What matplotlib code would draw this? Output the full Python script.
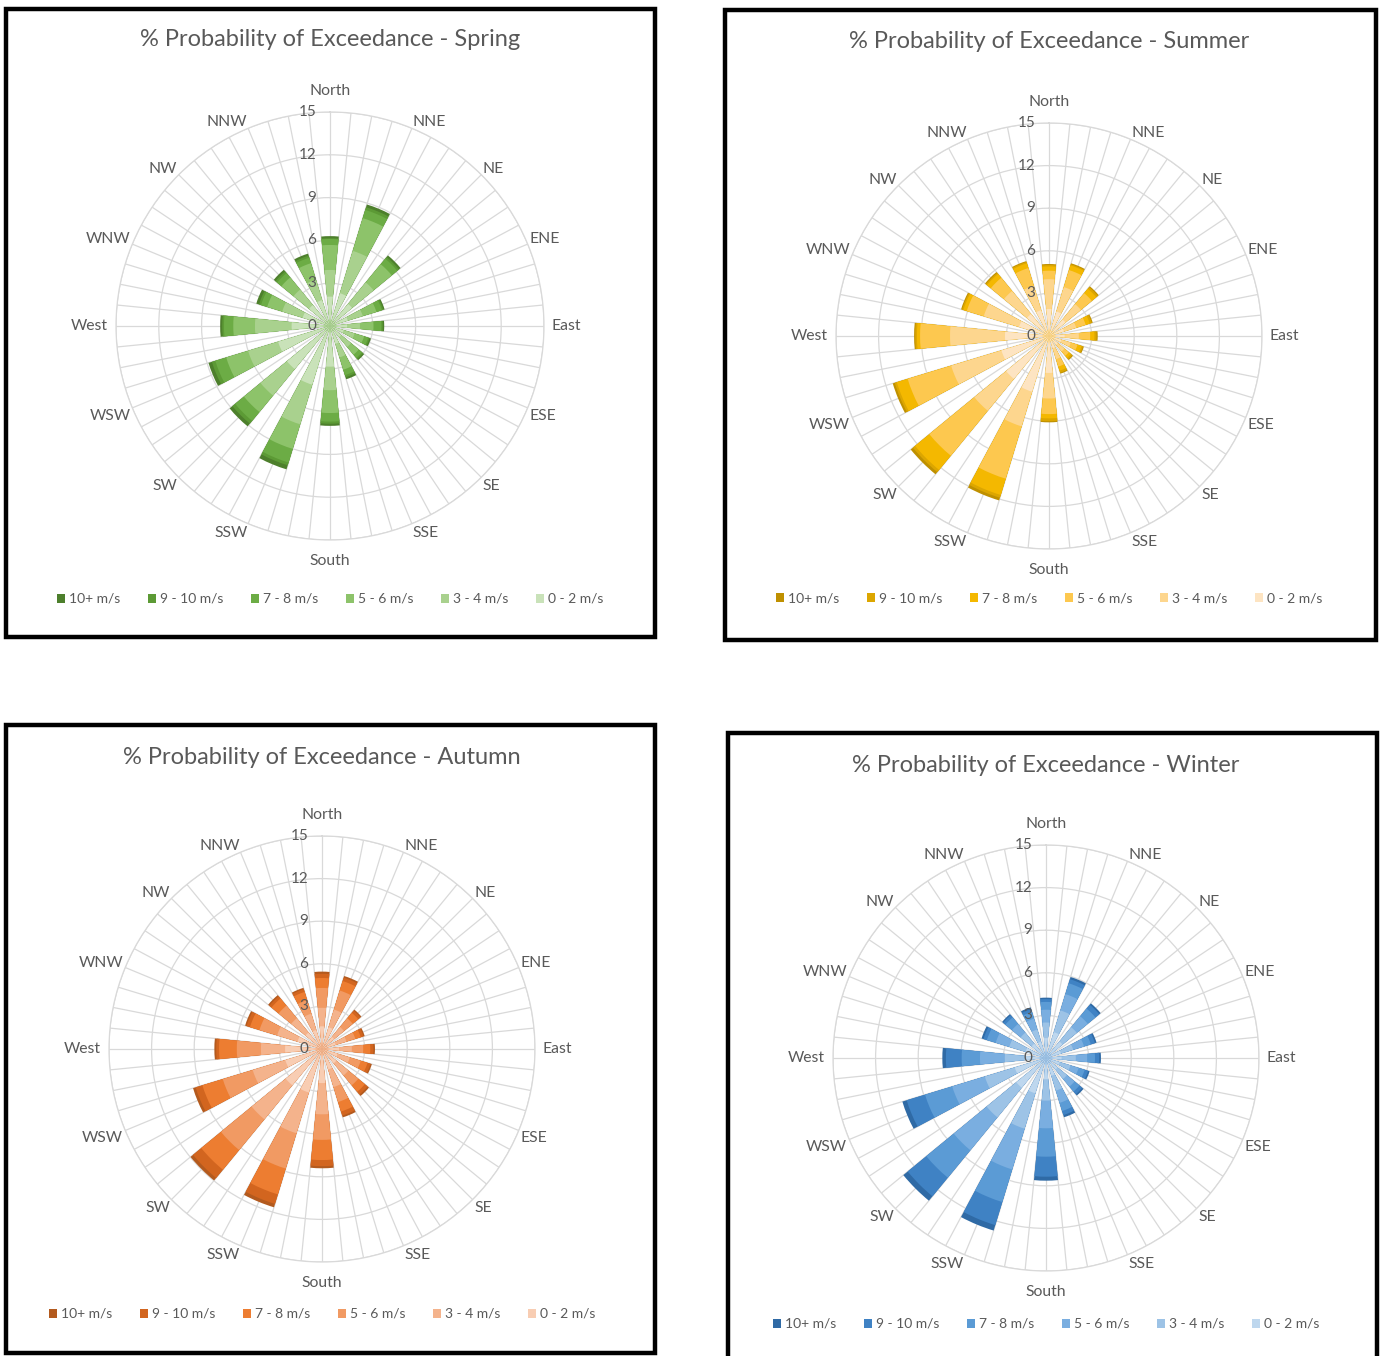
import numpy as np
import matplotlib
matplotlib.use("Agg")
import matplotlib.pyplot as plt
from matplotlib.patches import Patch, Rectangle

plt.rcParams['font.family'] = ['Lato', 'DejaVu Sans']

W, H = 1381, 1356

directions = ['North', 'NNE', 'NE', 'ENE', 'East', 'ESE', 'SE', 'SSE',
              'South', 'SSW', 'SW', 'WSW', 'West', 'WNW', 'NW', 'NNW']
speed_bins = ['10+ m/s', '9 - 10 m/s', '7 - 8 m/s', '5 - 6 m/s', '3 - 4 m/s', '0 - 2 m/s']
r_ticks = [0, 3, 6, 9, 12, 15]

# % exceedance per direction, one list per speed bin (outermost first)
spring_10 = [6.3, 8.9, 6.4, 4.0, 3.8, 3.0, 3.1, 3.9, 7.0, 10.5, 9.1, 8.9, 7.7, 5.4, 5.1, 5.3]
spring_9 = [6.15, 8.7, 6.25, 3.9, 3.7, 2.9, 3.0, 3.75, 6.85, 10.2, 8.85, 8.65, 7.55, 5.2, 4.95, 5.15]
spring_7 = [6.1, 8.5, 6.1, 3.8, 3.6, 2.8, 2.9, 3.6, 6.7, 10.0, 8.6, 8.4, 7.43, 5.05, 4.8, 5.0]
spring_5 = [5.68, 7.9, 5.6, 3.4, 3.05, 2.5, 2.6, 3.2, 6.1, 9.0, 7.8, 7.6, 6.78, 4.6, 4.4, 4.6]
spring_3 = [3.93, 5.5, 3.95, 2.4, 2.1, 1.8, 1.9, 2.3, 4.5, 7.2, 6.3, 6.0, 5.26, 3.5, 3.3, 3.4]
spring_0 = [2.06, 2.4, 2.0, 1.3, 1.2, 1.0, 1.0, 1.3, 2.85, 4.3, 3.9, 3.8, 2.69, 2.0, 1.9, 1.9]

summer_10 = [5.07, 5.35, 4.53, 3.22, 3.43, 2.57, 2.19, 2.77, 6.08, 12.1, 12.6, 11.5, 9.5, 6.47, 5.83, 5.51]
summer_9 = [5.0, 5.28, 4.45, 3.15, 3.35, 2.5, 2.12, 2.7, 6.0, 11.9, 12.4, 11.35, 9.42, 6.4, 5.75, 5.45]
summer_7 = [4.9, 5.2, 4.3, 3.0, 3.2, 2.4, 2.0, 2.55, 5.8, 11.7, 12.2, 11.2, 9.3, 6.3, 5.65, 5.35]
summer_5 = [4.6, 4.85, 3.9, 2.7, 2.9, 2.1, 1.8, 2.25, 5.5, 10.5, 10.9, 10.4, 9.08, 6.05, 5.3, 5.0]
summer_3 = [4.0, 3.6, 2.9, 2.0, 2.1, 1.6, 1.4, 1.7, 4.4, 6.65, 6.8, 7.2, 6.97, 4.8, 4.1, 3.7]
summer_0 = [1.9, 1.8, 1.5, 1.1, 1.1, 0.9, 0.8, 0.9, 2.6, 4.1, 3.9, 3.5, 3.1, 2.2, 2.0, 1.9]

autumn_10 = [5.45, 5.37, 3.59, 3.14, 3.73, 3.67, 4.28, 5.03, 8.4, 11.65, 11.98, 9.49, 7.58, 5.66, 4.91, 4.5]
autumn_9 = [5.3, 5.25, 3.5, 3.05, 3.62, 3.57, 4.15, 4.9, 8.25, 11.4, 11.75, 9.3, 7.45, 5.55, 4.8, 4.4]
autumn_7 = [5.0, 5.0, 3.3, 2.85, 3.4, 3.35, 3.9, 4.6, 7.82, 10.7, 11.0, 8.8, 7.25, 5.3, 4.6, 4.2]
autumn_5 = [4.3, 4.3, 2.8, 2.45, 2.9, 2.85, 3.3, 3.9, 6.4, 8.8, 9.2, 7.3, 6.0, 4.6, 3.95, 3.6]
autumn_3 = [2.9, 2.9, 2.0, 1.8, 2.1, 2.05, 2.4, 2.8, 4.6, 6.2, 6.4, 5.1, 4.3, 3.3, 2.8, 2.6]
autumn_0 = [1.6, 1.6, 1.1, 1.0, 1.2, 1.15, 1.3, 1.5, 2.4, 3.2, 3.3, 2.7, 2.6, 1.8, 1.5, 1.4]

winter_10 = [4.25, 5.96, 4.98, 3.72, 3.87, 3.21, 3.42, 4.36, 8.64, 12.7, 13.0, 10.57, 7.3, 4.74, 4.0, 3.73]
winter_9 = [4.15, 5.8, 4.85, 3.6, 3.75, 3.1, 3.3, 4.2, 8.36, 12.3, 12.6, 10.25, 7.05, 4.6, 3.9, 3.6]
winter_7 = [3.95, 5.5, 4.5, 3.3, 3.45, 2.85, 3.05, 3.9, 6.95, 10.6, 10.9, 8.9, 5.94, 4.35, 3.7, 3.4]
winter_5 = [3.4, 4.7, 3.8, 2.8, 2.9, 2.4, 2.6, 3.3, 4.95, 8.2, 8.4, 6.9, 4.65, 3.7, 3.1, 2.9]
winter_3 = [2.5, 3.5, 2.8, 2.0, 2.1, 1.8, 1.9, 2.4, 3.0, 5.2, 5.4, 4.5, 2.9, 2.7, 2.3, 2.1]
winter_0 = [1.4, 1.9, 1.5, 1.1, 1.1, 1.0, 1.05, 1.3, 1.5, 2.6, 2.7, 2.3, 1.4, 1.5, 1.3, 1.2]

spring_colors = ['#4d7f2c', '#5c9a35', '#6cac45', '#8dc36a', '#a9d18e', '#c9e2b9']
summer_colors = ['#bf9000', '#dca600', '#f4b800', '#fdc84f', '#fdd68e', '#fde4c2']
autumn_colors = ['#b35a1e', '#d2651f', '#ed7d31', '#f19a63', '#f4b38c', '#f8cdb3']
winter_colors = ['#2f6aa5', '#3f82c4', '#5b9bd5', '#7aaee0', '#9dc3e6', '#bed7ee']

TEXT = '#595959'
GRID = '#d9d9d9'


def fx(px):
    return px / W


def fy(py):
    return 1 - py / H


def wind_rose(cx, cy, radius, series, colors, title, title_y, legend_y, box):
    # frame round the whole chart
    x0, y0, x1, y1 = box
    fig.add_artist(Rectangle((fx(x0), fy(y1)), fx(x1 - x0), (y1 - y0) / H,
                             transform=fig.transFigure, fill=False,
                             edgecolor='black', linewidth=3.2))

    ax = fig.add_axes([fx(cx - radius), fy(cy + radius), fx(2 * radius), 2 * radius / H],
                      projection='polar')
    ax.set_theta_zero_location('N')
    ax.set_theta_direction(-1)
    ax.set_ylim(0, 15)

    spokes = np.deg2rad(np.arange(0, 360, 5.625))
    ax.set_xticks(spokes)
    ax.set_xticklabels([])
    ax.set_yticks(r_ticks[1:])
    ax.set_yticklabels([])
    ax.grid(True, color=GRID, linewidth=0.9)
    ax.spines['polar'].set_color(GRID)
    ax.spines['polar'].set_linewidth(0.9)
    ax.tick_params(length=0)

    theta = np.deg2rad(np.arange(16) * 22.5)
    width = np.deg2rad(11.25)
    for vals, col in zip(series, colors):
        ax.bar(theta, vals, width=width, color=col, edgecolor='none', zorder=3)

    # category labels outside the ring: N/S centred, E/W by their inner edge,
    # the rest by the corner nearest the ring
    for t, name in zip(theta, directions):
        s, c = np.sin(t), np.cos(t)
        if abs(s) < 0.1:
            ax.text(t, 16.45, name, ha='center', va='center', fontsize=11.3,
                    color=TEXT, clip_on=False)
            continue
        ha = 'left' if s > 0 else 'right'
        if abs(c) < 0.1:
            ax.text(t, 15.55, name, ha=ha, va='center', fontsize=11.3,
                    color=TEXT, clip_on=False)
            continue
        va = 'baseline' if c > 0 else 'top'
        ax.text(t, 15.15, name, ha=ha, va=va, fontsize=11.3,
                color=TEXT, clip_on=False)

    for r in r_ticks:
        ax.annotate(str(r), xy=(0, r), xytext=(-10, 0), textcoords='offset points',
                    ha='right', va='center', fontsize=11, color=TEXT, zorder=5)

    fig.text(fx(cx), fy(title_y), title, ha='center', va='center',
             fontsize=17, color=TEXT)

    handles = [Patch(facecolor=c, edgecolor='none') for c in colors]
    fig.legend(handles, speed_bins, loc='center', ncol=6,
               bbox_to_anchor=(fx(cx), fy(legend_y)), frameon=False,
               fontsize=10, handlelength=0.6, handleheight=0.6,
               handletextpad=0.25, columnspacing=2.0, labelcolor=TEXT)


fig = plt.figure(figsize=(W / 100, H / 100), dpi=100)
fig.patch.set_facecolor('white')

wind_rose(330, 326, 214,
          [spring_10, spring_9, spring_7, spring_5, spring_3, spring_0],
          spring_colors, '% Probability of Exceedance - Spring', 40, 599,
          (6, 9, 655, 637))
wind_rose(1049, 336, 213,
          [summer_10, summer_9, summer_7, summer_5, summer_3, summer_0],
          summer_colors, '% Probability of Exceedance - Summer', 42, 598,
          (725, 10, 1376, 640))
wind_rose(322, 1049, 213,
          [autumn_10, autumn_9, autumn_7, autumn_5, autumn_3, autumn_0],
          autumn_colors, '% Probability of Exceedance - Autumn', 757, 1314,
          (6, 725, 655, 1353))
wind_rose(1046, 1058, 213,
          [winter_10, winter_9, winter_7, winter_5, winter_3, winter_0],
          winter_colors, '% Probability of Exceedance - Winter', 765, 1324,
          (728, 733, 1377, 1362))

fig.savefig('out.png', dpi=100)
